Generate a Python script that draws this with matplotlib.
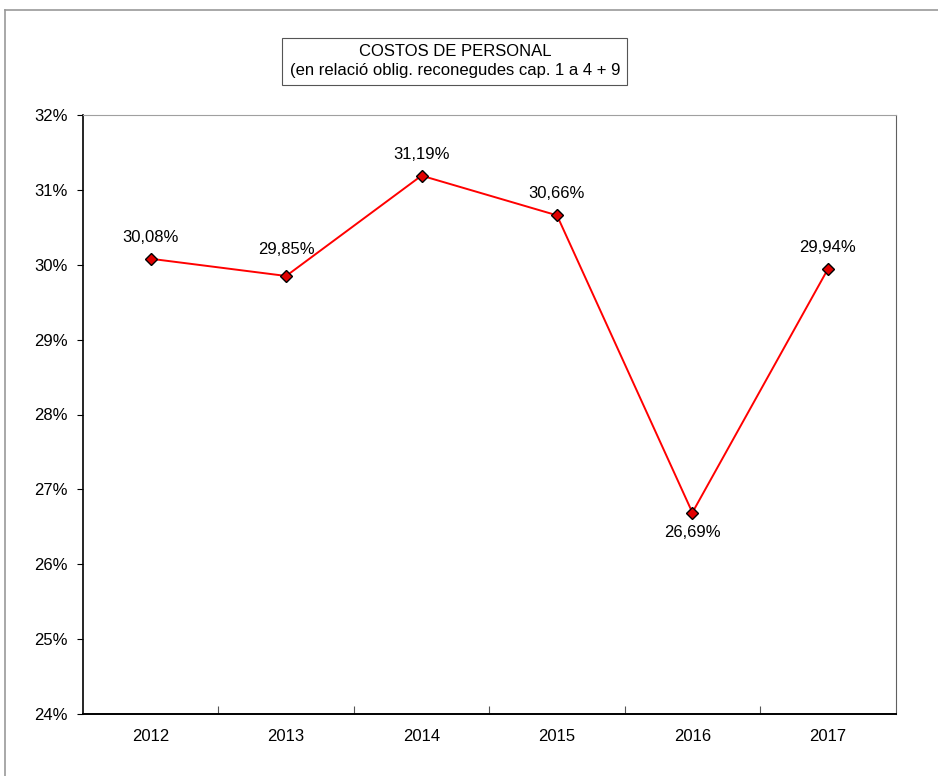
import matplotlib
matplotlib.use('Agg')
import matplotlib.pyplot as plt
from matplotlib.patches import Rectangle
from matplotlib.lines import Line2D
from matplotlib.ticker import FixedLocator, FuncFormatter

plt.rcParams['font.family'] = ['Liberation Sans', 'DejaVu Sans']

# dades
anys = ['2012', '2013', '2014', '2015', '2016', '2017']
costos = [30.08, 29.85, 31.19, 30.66, 26.69, 29.94]
etiquetes = ['30,08%', '29,85%', '31,19%', '30,66%', '26,69%', '29,94%']
titol = ['COSTOS DE PERSONAL', '(en relació oblig. reconegudes cap. 1 a 4 + 9']

fs = 12

fig = plt.figure(figsize=(9.38, 7.76), dpi=100)
ax = fig.add_axes([83 / 938, 62 / 776, 812.5 / 938, 599 / 776])

x = list(range(len(anys)))
ax.plot(x, costos, color='#ff0000', lw=1.4, marker='D', markersize=6,
        markerfacecolor='#e00000', markeredgecolor='black', markeredgewidth=1.0, zorder=3)

for i, (v, t) in enumerate(zip(costos, etiquetes)):
    if i == 4:
        ax.annotate(t, (i, v), xytext=(0, -9), textcoords='offset points',
                    ha='center', va='top', fontsize=fs)
    elif i == 1:
        ax.annotate(t, (i, v), xytext=(0, 14), textcoords='offset points',
                    ha='center', va='bottom', fontsize=fs)
    else:
        ax.annotate(t, (i, v), xytext=(0, 10), textcoords='offset points',
                    ha='center', va='bottom', fontsize=fs)

ax.set_xlim(-0.5, len(anys) - 0.5)
ax.set_ylim(24, 32)
ax.set_yticks(range(24, 33))
ax.yaxis.set_major_formatter(FuncFormatter(lambda v, p: '%d%%' % v))
ax.tick_params(axis='y', direction='out', length=4, width=0.8, pad=7, labelsize=fs)

# etiquetes al centre, marques entre categories
ax.set_xticks(x)
ax.set_xticklabels(anys)
ax.tick_params(axis='x', which='major', length=0, pad=11, labelsize=fs)
ax.xaxis.set_minor_locator(FixedLocator([i + 0.5 for i in x[:-1]]))
ax.tick_params(axis='x', which='minor', direction='in', length=6, width=0.8, color='#555555')

ax.spines['left'].set_color('black')
ax.spines['bottom'].set_color('black')
ax.spines['left'].set_linewidth(1.2)
ax.spines['bottom'].set_linewidth(1.4)
ax.spines['top'].set_color('#a0a0a0')
ax.spines['right'].set_color('#606060')

# caixa del titol
fig.patches.append(Rectangle((282 / 938, 1 - 85 / 776), 345 / 938, 47 / 776,
                             transform=fig.transFigure, fill=False,
                             edgecolor='#555555', lw=0.8))
fig.text(455 / 938, 1 - 51 / 776, titol[0], ha='center', va='center', fontsize=fs)
fig.text(455 / 938, 1 - 71 / 776, titol[1], ha='center', va='center', fontsize=fs)

# vora exterior
fig.lines.append(Line2D([5 / 938, 5 / 938], [0, 1 - 9.5 / 776], transform=fig.transFigure,
                        color='#999999', lw=1.2))
fig.lines.append(Line2D([5 / 938, 1], [1 - 9.5 / 776, 1 - 9.5 / 776], transform=fig.transFigure,
                        color='#999999', lw=1.2))

fig.savefig('out.png', dpi=100)
